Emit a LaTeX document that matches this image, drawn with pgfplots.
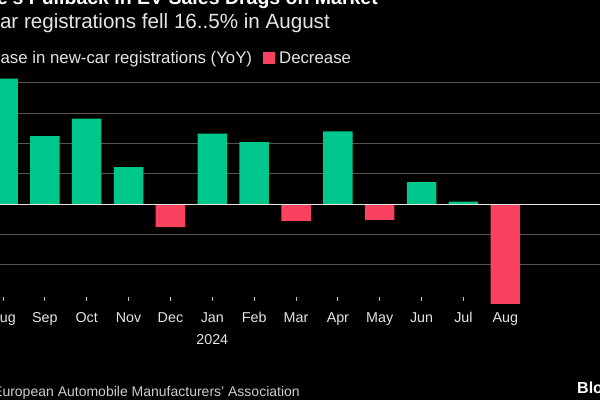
\documentclass[border=0pt]{standalone}
\usepackage{fontspec}
\setmainfont{Liberation Sans}
\usepackage{pgfplots}
\pgfplotsset{compat=1.18}
\definecolor{upc}{RGB}{0,200,140}
\definecolor{downc}{RGB}{250,65,95}
\definecolor{gridc}{RGB}{85,85,85}
\definecolor{txtc}{RGB}{228,228,228}
\begin{document}
\begin{tikzpicture}[x=1pt,y=1pt]
\fill[black] (0,0) rectangle (600,400);
\begin{scope}
\clip (0,0) rectangle (600,400);
\begin{axis}[
  at={(3pt,196pt)}, anchor=origin,
  x=41.86pt, y=6.06pt,
  xmin=-1, xmax=14.5, ymin=-16, ymax=21,
  clip=false,
  axis line style={draw=none},
  ybar, bar width=29.5pt,
  ytick={-10,-5,5,10,15,20},
  yticklabels={},
  ytick style={draw=none},
  ymajorgrids,
  grid style={gridc, line width=1.2pt},
  xtick={0,...,11},
  xticklabels={Aug,Sep,Oct,Nov,Dec,{Jan\\2024},Feb,Mar,Apr,May,Jun,Jul},
  extra x ticks={12},
  extra x tick labels={Aug},
  extra x tick style={major tick length=0pt},
  xtick pos=bottom,
  tick align=inside,
  major tick length=4pt,
  xtick style={draw=txtc!85!black, line width=0.9pt},
  xticklabel style={font=\fontsize{14.3}{22}\selectfont, text=txtc, align=center, yshift=-8pt},
  legend columns=2,
  legend style={at={(0.6043,1.0836)}, anchor=east, draw=none, fill=none,
    text=txtc, font=\fontsize{16.8}{20}\selectfont, inner sep=0pt,
    /tikz/every odd column/.append style={column sep=2pt},
    /tikz/every even column/.append style={column sep=9pt}},
  legend cell align=left,
  legend image code/.code={\fill[#1] (0pt,-6pt) rectangle (12pt,6pt);},
]
\addplot[fill=upc, draw=none, bar shift=0pt] coordinates {
  (0,20.7) (1,11.2) (2,14.1) (3,6.1) (5,11.6) (6,10.2) (8,12.0) (10,3.6) (11,0.4)};
\addlegendentry{Increase in new-car registrations (YoY)}
\addplot[fill=downc, draw=none, bar shift=0pt] coordinates {
  (4,-3.8) (7,-2.8) (9,-2.6) (12,-16.5)};
\addlegendentry{Decrease}
\addplot[sharp plot, draw=txtc, line width=1pt, forget plot] coordinates {(-1,0) (14.5,0)};
\end{axis}
\node[anchor=base east, inner sep=0, text=white, font=\fontsize{19.5}{24}\selectfont\bfseries] at (378,395) {Europe's Pullback in EV Sales Drags on Market};
\node[anchor=base east, inner sep=0, text=txtc, font=\fontsize{20.6}{24}\selectfont] at (330,371.7) {New-car registrations fell 16..5\% in August};
\node[anchor=base east, inner sep=0, text=txtc!90!black, font=\fontsize{14}{18}\selectfont] at (300,4) {Source: European Automobile Manufacturers' Association};
\node[anchor=base west, inner sep=0, text=white, font=\fontsize{16}{20}\selectfont\bfseries] at (577,7) {Bloomberg};
\end{scope}
\pgfresetboundingbox
\path[use as bounding box] (0,0) rectangle (600,400);
\end{tikzpicture}
\end{document}
